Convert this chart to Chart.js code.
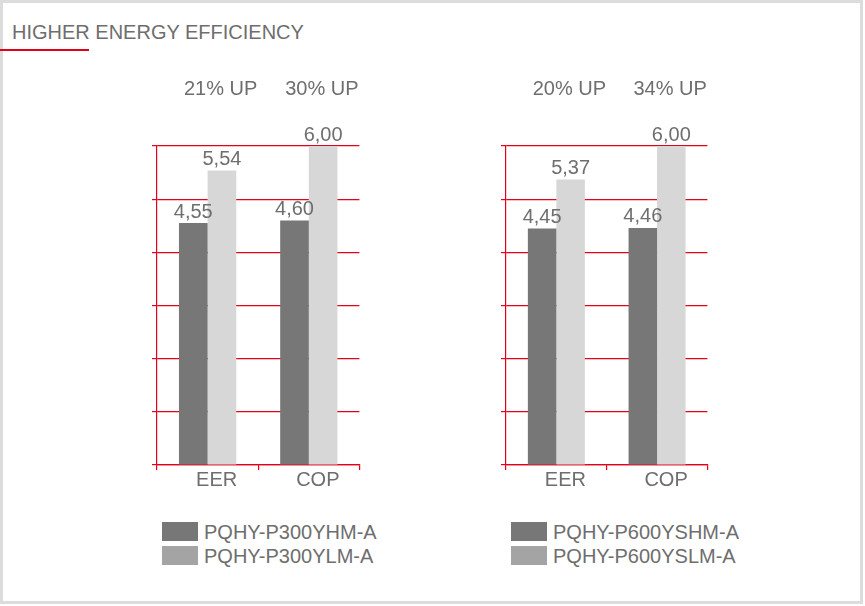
<!DOCTYPE html>
<html>
<head>
<meta charset="utf-8">
<script src="https://cdn.jsdelivr.net/npm/chart.js@4.4.1/dist/chart.umd.min.js"></script>
<style>
  body { margin: 0; background: #fff; font-family: "Liberation Sans", Arial, sans-serif; }
  #frame { position: absolute; left: 0; top: 0; width: 857px; height: 598px; border: 3px solid #dcdcdc; }
  #title { position: absolute; left: 12px; top: 20px; font-size: 20px; color: #6e6e6e; line-height: 24px; }
  #underline { position: absolute; left: 0; top: 49px; width: 89px; height: 2px; background: #e2001a; }
  .box { position: absolute; width: 440px; height: 440px; }
  .legend { position: absolute; font-size: 20px; color: #6e6e6e; line-height: 24px; }
  .legend div { height: 24px; white-space: nowrap; }
  .legend span { display: inline-block; width: 36px; height: 19px; vertical-align: top; margin-top: 2px; margin-right: 6px; }
</style>
</head>
<body>
<div id="frame"></div>
<div id="title">HIGHER ENERGY EFFICIENCY</div>
<div id="underline"></div>

<div class="box" style="left:100px; top:60px; width:300px;"><canvas id="chartLeft" width="300" height="440"></canvas></div>
<div class="box" style="left:449px; top:60px; width:300px;"><canvas id="chartRight" width="300" height="440"></canvas></div>

<div class="legend" id="legendLeft" style="left:162px; top:520px;"></div>
<div class="legend" id="legendRight" style="left:511px; top:520px;"></div>

<script>
// chart values
const categories = ['EER', 'COP'];

const leftNames = ['PQHY-P300YHM-A', 'PQHY-P300YLM-A'];
const leftDark = [4.55, 4.60];
const leftLight = [5.54, 6.00];
const leftUp = ['21% UP', '30% UP'];

const rightNames = ['PQHY-P600YSHM-A', 'PQHY-P600YSLM-A'];
const rightDark = [4.45, 4.46];
const rightLight = [5.37, 6.00];
const rightUp = ['20% UP', '34% UP'];

const RED = '#e2001a';
const TEXT = '#6e6e6e';
const DARK = '#777777';
const LIGHT = '#d7d7d7';
const LEGEND_LIGHT = '#a4a4a4';
const FONT = { family: '"Liberation Sans", Arial, sans-serif', size: 20 };

// value labels above every bar, with comma decimals
const valueLabels = {
    id: 'valueLabels',
    afterDatasetsDraw(chart) {
        const ctx = chart.ctx;
        ctx.save();
        ctx.font = '20px "Liberation Sans", Arial, sans-serif';
        ctx.fillStyle = TEXT;
        ctx.textAlign = 'center';
        ctx.textBaseline = 'middle';
        chart.data.datasets.forEach((ds, i) => {
            chart.getDatasetMeta(i).data.forEach((bar, j) => {
                ctx.fillText(ds.data[j].toFixed(2).replace('.', ','), bar.x, bar.y - 11);
            });
        });
        ctx.restore();
    }
};

function makeChart(canvasId, names, dark, light, up, padRight) {
    const ctx = document.getElementById(canvasId).getContext('2d');
    return new Chart(ctx, {
        type: 'bar',
        data: {
            labels: categories,
            datasets: [
                { label: names[0], data: dark, backgroundColor: DARK },
                { label: names[1], data: light, backgroundColor: LIGHT }
            ]
        },
        options: {
            responsive: false,
            animation: false,
            layout: { padding: { left: 0, right: padRight, top: 0, bottom: 0 } },
            categoryPercentage: 0.566,
            barPercentage: 1.0,
            plugins: { legend: { display: false }, tooltip: { enabled: false } },
            scales: {
                x: {
                    position: 'bottom',
                    offset: true,
                    grid: { offset: true, drawOnChartArea: false, drawTicks: true, tickLength: 5, color: RED, lineWidth: 1.2 },
                    border: { color: RED, width: 1.2 },
                    ticks: { color: TEXT, font: FONT, padding: -2, labelOffset: 9 },
                    afterFit(scale) { scale.height = 35; }
                },
                x2: {
                    type: 'category',
                    labels: up,
                    position: 'top',
                    offset: true,
                    grid: { display: false, drawTicks: false },
                    border: { display: false },
                    ticks: { color: TEXT, font: FONT, padding: 45, labelOffset: 13 },
                    afterFit(scale) { scale.height = 86; }
                },
                y: {
                    min: 0,
                    max: 6,
                    ticks: { stepSize: 1, display: false },
                    grid: { color: RED, tickLength: 5, drawTicks: true, lineWidth: 1.2 },
                    border: { color: RED, width: 1.2 },
                    afterFit(scale) { scale.width = 57; }
                }
            }
        },
        plugins: [valueLabels]
    });
}

function makeLegend(elId, names) {
    const colors = [DARK, LEGEND_LIGHT];
    const el = document.getElementById(elId);
    names.forEach((n, i) => {
        const row = document.createElement('div');
        const sw = document.createElement('span');
        sw.style.background = colors[i];
        row.appendChild(sw);
        row.appendChild(document.createTextNode(n));
        el.appendChild(row);
    });
}

makeChart('chartLeft', leftNames, leftDark, leftLight, leftUp, 38);
makeChart('chartRight', rightNames, rightDark, rightLight, rightUp, 41);
makeLegend('legendLeft', leftNames);
makeLegend('legendRight', rightNames);
</script>
</body>
</html>
